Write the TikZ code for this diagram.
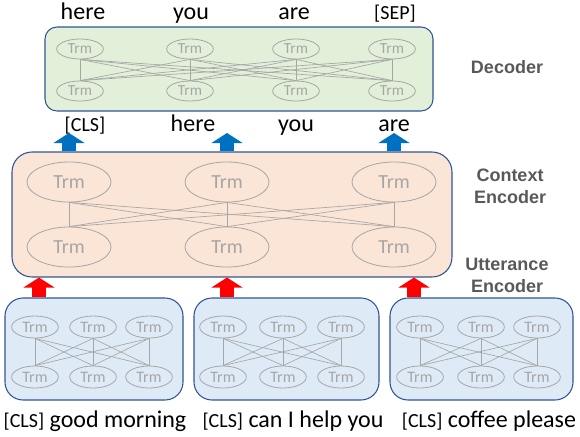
\documentclass[tikz,border=0pt]{standalone}
\usepackage{fontspec}
\setmainfont{Carlito}
\setsansfont{Liberation Sans}
\usetikzlibrary{arrows.meta,shapes.geometric}
\definecolor{decgreen}{HTML}{E2F0D9}
\definecolor{ctxorange}{HTML}{FBE5D6}
\definecolor{uttblue}{HTML}{DEEBF7}
\definecolor{boxedge}{HTML}{2F5597}
\definecolor{trmgray}{HTML}{A6A6A6}
\definecolor{labelgray}{HTML}{595959}
\definecolor{arrowblue}{HTML}{0070C0}
\definecolor{arrowred}{HTML}{FF0000}

\begin{document}
\begin{tikzpicture}[x=0.75pt,y=-0.75pt,
  box/.style={draw=boxedge,line width=0.8pt},
  trm/.style={ellipse,draw=trmgray,line width=0.6pt,text=trmgray,inner sep=0pt},
  dtrm/.style={trm,minimum width=35pt,minimum height=15pt,font=\fontsize{11.5}{13}\selectfont},
  ctrm/.style={trm,minimum width=63pt,minimum height=30pt,font=\fontsize{15}{17}\selectfont},
  utrm/.style={trm,minimum width=35pt,minimum height=16.5pt,font=\fontsize{12}{14}\selectfont},
  link/.style={trmgray,line width=0.5pt},
  word/.style={anchor=base,inner sep=0pt,font=\fontsize{18}{20}\selectfont},
  tag/.style={font=\fontsize{15}{18}\selectfont},
  side/.style={align=center,text=labelgray,font=\sffamily\bfseries\fontsize{13.5}{16.5}\selectfont},
  fat/.style={line width=10.5pt,-{Triangle[length=7.5pt,width=23pt]}}]

  \useasboundingbox (0,0) rectangle (580,436);

  % decoder
  \node[box,fill=decgreen,rounded corners=9pt,minimum width=291pt,minimum height=63pt] (dec) at (239,69) {};
  \foreach \x [count=\i] in {80,190,296,392} {
    \node[dtrm] (dt\i) at (\x,49) {Trm};
    \node[dtrm] (db\i) at (\x,91) {Trm};
  }
  \foreach \i in {1,...,4}
    \foreach \j in {1,...,4}
      \draw[link] (dt\i.south) -- (db\j.north);

  \node[word] (out1) at (83,19) {here};
  \node[word] (out2) at (191,19) {you};
  \node[word] (out3) at (294,19) {are};
  \node[word,tag] (out4) at (395,19) {[SEP]};

  \node[word,tag] (in1) at (85,131) {[CLS]};
  \node[word] (in2) at (193,131) {here};
  \node[word] (in3) at (296,131) {you};
  \node[word] (in4) at (394,131) {are};

  % context encoder
  \node[box,fill=ctxorange,rounded corners=15pt,minimum width=330pt,minimum height=93.75pt] (ctx) at (232,214.5) {};
  \foreach \x [count=\i] in {69,227,394} {
    \node[ctrm] (ct\i) at (\x,182) {Trm};
    \node[ctrm] (cb\i) at (\x,247) {Trm};
  }
  \foreach \i in {1,2,3}
    \foreach \j in {1,2,3}
      \draw[link] (ct\i.south) -- (cb\j.north);

  \foreach \i in {1,2,3}
    \draw[fat,arrowblue] (ct\i |- ctx.north) -- (ct\i |- 0,133);

  % utterance encoders
  \foreach \n/\cx/\w/\a/\b/\c in {1/94/133.5pt/35/93/149,2/286.5/138.75pt/223/283/341,3/481.5/137.25pt/420/481/537} {
    \node[box,fill=uttblue,rounded corners=13.5pt,minimum width=\w,minimum height=76.5pt] (u\n) at (\cx,349) {};
    \foreach \x [count=\i] in {\a,\b,\c} {
      \node[utrm] (u\n t\i) at (\x,327) {Trm};
      \node[utrm] (u\n b\i) at (\x,377) {Trm};
    }
    \foreach \i in {1,2,3}
      \foreach \j in {1,2,3}
        \draw[link] (u\n t\i.south) -- (u\n b\j.north);
  }

  \foreach \x [count=\i] in {39,227,414}
    \draw[fat,arrowred] (\x,0 |- u\i.north) -- (\x,0 |- ctx.south);

  \node[word] (sent1) at (95,427) {{\fontsize{15}{18}\selectfont[CLS]} good morning};
  \node[word] (sent2) at (293,427) {{\fontsize{15}{18}\selectfont[CLS]} can I help you};
  \node[word] (sent3) at (489,427) {{\fontsize{15}{18}\selectfont[CLS]} coffee please};

  \node[side] (declabel) at (507,67) {Decoder};
  \node[side] (ctxlabel) at (510,186) {Context\\Encoder};
  \node[side] (uttlabel) at (507,275) {Utterance\\Encoder};
\end{tikzpicture}
\end{document}
